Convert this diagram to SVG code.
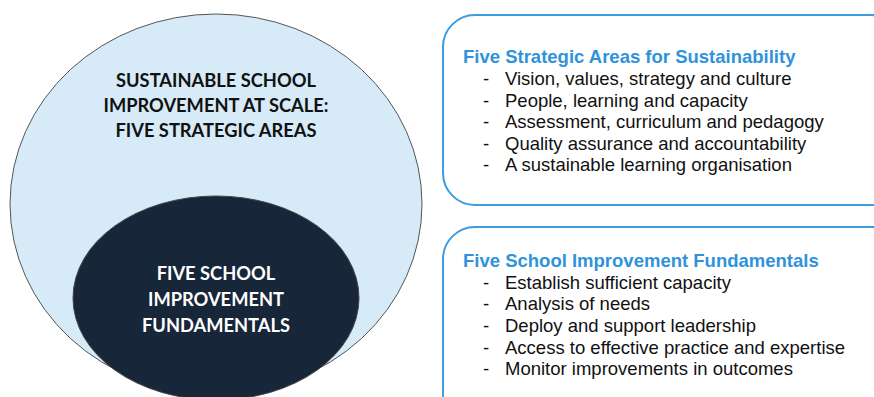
<svg xmlns="http://www.w3.org/2000/svg" width="874" height="397" viewBox="0 0 874 397">
<style>
.cap{font-family:Lato,"Open Sans","Liberation Sans",sans-serif;font-weight:bold;font-size:18.3px;text-anchor:middle}
.box{fill:#ffffff;stroke:#3f9be0;stroke-width:2}
.ttl{font-family:"Liberation Sans",Arial,sans-serif;font-weight:bold;font-size:18.5px;fill:#2f93dc}
.it{font-family:"Liberation Sans",Arial,sans-serif;font-size:18.5px;fill:#111111}
</style>
<rect width="874" height="397" fill="#ffffff"/>
<g id="outer">
<ellipse cx="216" cy="204" rx="206" ry="190" fill="#d6eaf8" stroke="#555" stroke-width="1"/>
<text class="cap" x="216" fill="#111"><tspan x="216" y="87">SUSTAINABLE SCHOOL</tspan><tspan x="216" y="112">IMPROVEMENT AT SCALE:</tspan><tspan x="216" y="137">FIVE STRATEGIC AREAS</tspan></text>
</g>
<g id="inner">
<ellipse cx="216" cy="298" rx="143" ry="102" fill="#18263a" stroke="#444" stroke-width="1"/>
<text class="cap" x="216" fill="#ffffff"><tspan x="216" y="280">FIVE SCHOOL</tspan><tspan x="216" y="306">IMPROVEMENT</tspan><tspan x="216" y="332">FUNDAMENTALS</tspan></text>
</g>
<g id="box1">
<rect class="box" x="443" y="15" width="460" height="190" rx="32"/>
<text class="ttl" x="463" y="63">Five Strategic Areas for Sustainability</text>
<g class="it">
<text x="483" y="85">-</text><text x="505" y="85">Vision, values, strategy and culture</text>
<text x="483" y="107">-</text><text x="505" y="107">People, learning and capacity</text>
<text x="483" y="128">-</text><text x="505" y="128">Assessment, curriculum and pedagogy</text>
<text x="483" y="150">-</text><text x="505" y="150">Quality assurance and accountability</text>
<text x="483" y="171">-</text><text x="505" y="171">A sustainable learning organisation</text>
</g>
</g>
<g id="box2">
<rect class="box" x="443" y="227" width="460" height="200" rx="32"/>
<text class="ttl" x="463" y="267">Five School Improvement Fundamentals</text>
<g class="it">
<text x="483" y="289">-</text><text x="505" y="289">Establish sufficient capacity</text>
<text x="483" y="310">-</text><text x="505" y="310">Analysis of needs</text>
<text x="483" y="332">-</text><text x="505" y="332">Deploy and support leadership</text>
<text x="483" y="354">-</text><text x="505" y="354">Access to effective practice and expertise</text>
<text x="483" y="375">-</text><text x="505" y="375">Monitor improvements in outcomes</text>
</g>
</g>
<g id="connectors"></g>
</svg>
